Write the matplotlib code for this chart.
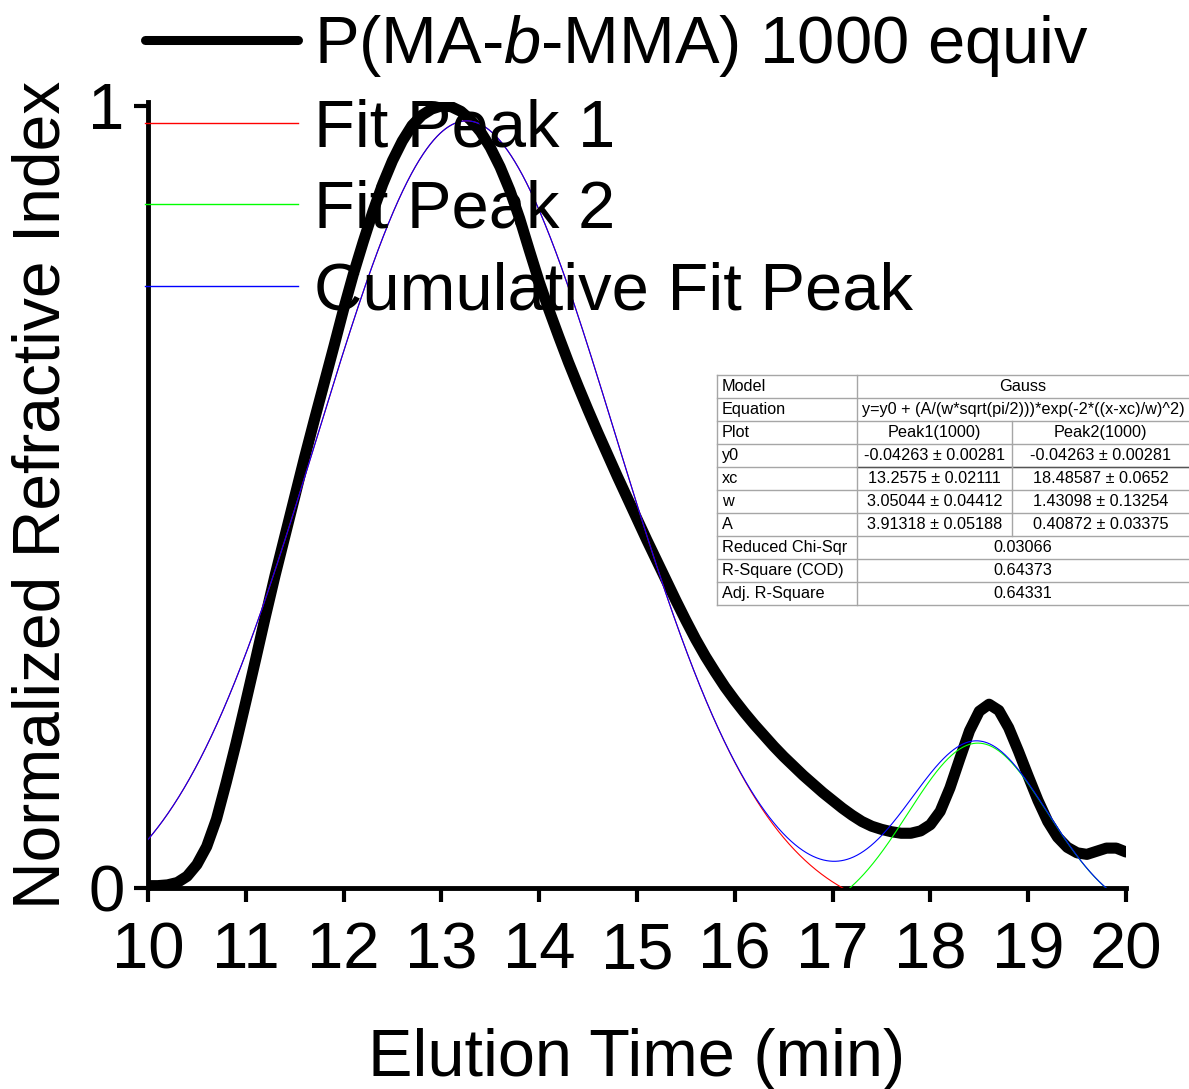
import numpy as np
import matplotlib
matplotlib.use("Agg")
import matplotlib.pyplot as plt
from matplotlib.lines import Line2D
from matplotlib.patches import Rectangle

plt.rcParams['font.family'] = ['Liberation Sans', 'DejaVu Sans']
plt.rcParams['mathtext.fontset'] = 'custom'
plt.rcParams['mathtext.rm'] = 'Liberation Sans'
plt.rcParams['mathtext.it'] = 'Liberation Sans:italic'

# GPC trace (normalized RI signal vs elution time)
elution_time = [10.00, 10.10, 10.20, 10.30, 10.40, 10.50, 10.60, 10.70, 10.80, 10.90,
                11.00, 11.10, 11.20, 11.30, 11.40, 11.50, 11.60, 11.70, 11.80, 11.90,
                12.00, 12.10, 12.20, 12.30, 12.40, 12.50, 12.60, 12.70, 12.80, 12.90,
                13.00, 13.10, 13.20, 13.30, 13.40, 13.50, 13.60, 13.70, 13.80, 13.90,
                14.00, 14.10, 14.20, 14.30, 14.40, 14.50, 14.60, 14.70, 14.80, 14.90,
                15.00, 15.10, 15.20, 15.30, 15.40, 15.50, 15.60, 15.70, 15.80, 15.90,
                16.00, 16.10, 16.20, 16.30, 16.40, 16.50, 16.60, 16.70, 16.80, 16.90,
                17.00, 17.10, 17.20, 17.30, 17.40, 17.50, 17.60, 17.70, 17.80, 17.90,
                18.00, 18.10, 18.20, 18.30, 18.40, 18.50, 18.60, 18.70, 18.80, 18.90,
                19.00, 19.10, 19.20, 19.30, 19.40, 19.50, 19.60, 19.70, 19.80, 19.90,
                20.00]
ri_signal = [0.003, 0.003, 0.004, 0.007, 0.015, 0.030, 0.053, 0.088, 0.135, 0.185,
             0.238, 0.292, 0.347, 0.400, 0.450, 0.500, 0.550, 0.598, 0.645, 0.692,
             0.740, 0.785, 0.826, 0.865, 0.900, 0.930, 0.955, 0.975, 0.988, 0.996,
             1.000, 0.999, 0.993, 0.982, 0.967, 0.947, 0.922, 0.892, 0.856, 0.815,
             0.775, 0.739, 0.705, 0.672, 0.641, 0.611, 0.582, 0.554, 0.526, 0.499,
             0.472, 0.445, 0.419, 0.393, 0.367, 0.342, 0.318, 0.296, 0.276, 0.257,
             0.240, 0.224, 0.209, 0.195, 0.181, 0.168, 0.156, 0.144, 0.133, 0.122,
             0.112, 0.102, 0.093, 0.085, 0.079, 0.075, 0.072, 0.070, 0.070, 0.073,
             0.081, 0.098, 0.128, 0.165, 0.201, 0.226, 0.235, 0.227, 0.205, 0.175,
             0.143, 0.112, 0.085, 0.065, 0.052, 0.045, 0.043, 0.047, 0.051, 0.051,
             0.046]

# Gauss fit results (two peaks, shared baseline)
peak_names = ["Peak1(1000)", "Peak2(1000)"]
y0 = [-0.04263, -0.04263]
y0_err = [0.00281, 0.00281]
xc = [13.2575, 18.48587]
xc_err = [0.02111, 0.0652]
w = [3.05044, 1.43098]
w_err = [0.04412, 0.13254]
A = [3.91318, 0.40872]
A_err = [0.05188, 0.03375]
reduced_chi_sqr = "0.03066"
r_square_cod = "0.64373"
adj_r_square = "0.64331"
equation = "y=y0 + (A/(w*sqrt(pi/2)))*exp(-2*((x-xc)/w)^2)"

x_ticks = [10, 11, 12, 13, 14, 15, 16, 17, 18, 19, 20]
y_ticks = [0, 1]
legend_labels = ["P(MA-$\\it{b}$-MMA) 1000 equiv", "Fit Peak 1", "Fit Peak 2",
                 "Cumulative Fit Peak"]


def gauss(x, base, center, width, area):
    return base + area / (width * np.sqrt(np.pi / 2)) * np.exp(-2 * ((x - center) / width) ** 2)


W, H = 1189, 1089
fig = plt.figure(figsize=(W / 100, H / 100), dpi=100)
ax = fig.add_axes([148 / W, 1 - 888 / H, (1126 - 148) / W, (888 - 102) / H])

xs = np.linspace(10, 20, 2001)
fit1 = gauss(xs, y0[0], xc[0], w[0], A[0])
fit2 = gauss(xs, y0[1], xc[1], w[1], A[1])
cumulative = y0[0] + (fit1 - y0[0]) + (fit2 - y0[1])

ax.plot(elution_time, ri_signal, color='black', lw=8.0,
        solid_capstyle='round', solid_joinstyle='round', zorder=2)
ax.plot(xs, fit1, color='#ff0000', lw=0.8, zorder=3)
ax.plot(xs, fit2, color='#00ff00', lw=0.8, zorder=3)
ax.plot(xs, cumulative, color='#0000ff', lw=0.8, zorder=4)

ax.set_xlim(10, 20)
ax.set_ylim(0, 1.005)
ax.set_xticks(x_ticks)
ax.set_xticklabels([str(t) for t in x_ticks])
ax.set_yticks(y_ticks)
ax.set_yticklabels([str(t) for t in y_ticks])
ax.minorticks_off()
for s in ['top', 'right']:
    ax.spines[s].set_visible(False)
for s in ['left', 'bottom']:
    ax.spines[s].set_linewidth(3.5)
ax.tick_params(direction='out', length=10, width=3, labelsize=47)
ax.tick_params(axis='x', pad=14)
ax.tick_params(axis='y', pad=7)

ax.set_xlabel("Elution Time (min)", fontsize=48)
ax.set_ylabel("Normalized Refractive Index", fontsize=47.5)
ax.xaxis.set_label_coords(0.5, -0.178)
ax.yaxis.set_label_coords(-0.0757, 0.5)

handles = [Line2D([], [], color='black', lw=6.5, solid_capstyle='round'),
           Line2D([], [], color='#ff0000', lw=1.0),
           Line2D([], [], color='#00ff00', lw=1.0),
           Line2D([], [], color='#0000ff', lw=1.0)]
fig.legend(handles, legend_labels, loc='upper left',
           bbox_to_anchor=(145 / W, 1 - 13 / H), frameon=False,
           fontsize=48.2, handlelength=2.29, handletextpad=0.23,
           labelspacing=0.29, borderpad=0, borderaxespad=0)

# Fit parameter table
t_left, t_c1, t_c2, t_right = 717, 857, 1012, 1189
t_top, row_h = 375, 23
grid_col = '#a6a6a6'
table_fs = 11.7


def fx(px):
    return px / W


def fy(py):
    return 1 - py / H


def fmt(v, e):
    return f"{v} \u00b1 {e}"


rows = [("Model", ["Gauss"]),
        ("Equation", [equation]),
        ("Plot", peak_names),
        ("y0", [fmt(y0[0], y0_err[0]), fmt(y0[1], y0_err[1])]),
        ("xc", [fmt(xc[0], xc_err[0]), fmt(xc[1], xc_err[1])]),
        ("w", [fmt(w[0], w_err[0]), fmt(w[1], w_err[1])]),
        ("A", [fmt(A[0], A_err[0]), fmt(A[1], A_err[1])]),
        ("Reduced Chi-Sqr", [reduced_chi_sqr]),
        ("R-Square (COD)", [r_square_cod]),
        ("Adj. R-Square", [adj_r_square])]

n_rows = len(rows)
t_bottom = t_top + n_rows * row_h
fig.add_artist(Rectangle((fx(t_left), fy(t_bottom)), fx(t_right - t_left), (t_bottom - t_top) / H,
                         transform=fig.transFigure, facecolor='white', edgecolor='none', zorder=5))


def hline(py, x0=t_left, x1=t_right, color=grid_col):
    fig.add_artist(Line2D([fx(x0), fx(x1)], [fy(py), fy(py)], transform=fig.transFigure,
                          color=color, lw=1.0, zorder=6))


def vline(px, y0p, y1p, color=grid_col):
    fig.add_artist(Line2D([fx(px), fx(px)], [fy(y0p), fy(y1p)], transform=fig.transFigure,
                          color=color, lw=1.0, zorder=6))


for i in range(n_rows + 1):
    hline(t_top + i * row_h)
hline(t_top + 4 * row_h, t_c1, t_right, color='#555555')
vline(t_left, t_top, t_bottom)
vline(t_c1, t_top, t_bottom)
for i, (name, vals) in enumerate(rows):
    yc = t_top + (i + 0.5) * row_h
    if len(vals) == 2:
        vline(t_c2, t_top + i * row_h, t_top + (i + 1) * row_h)
    fig.text(fx(t_left + 5), fy(yc), name, ha='left', va='center', fontsize=table_fs, zorder=7)
    if len(vals) == 1:
        fig.text(fx((t_c1 + t_right) / 2), fy(yc), vals[0], ha='center', va='center',
                 fontsize=table_fs, zorder=7)
    else:
        fig.text(fx((t_c1 + t_c2) / 2), fy(yc), vals[0], ha='center', va='center',
                 fontsize=table_fs, zorder=7)
        fig.text(fx((t_c2 + t_right) / 2), fy(yc), vals[1], ha='center', va='center',
                 fontsize=table_fs, zorder=7)

fig.savefig("out.png", dpi=100)
